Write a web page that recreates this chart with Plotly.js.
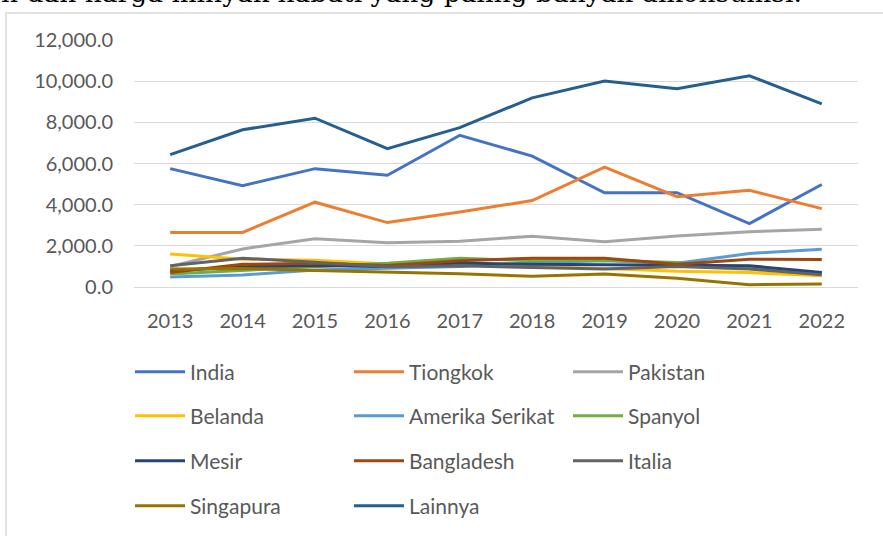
<!DOCTYPE html>
<html>
<head>
<meta charset="utf-8">
<script src="https://cdn.plot.ly/plotly-3.0.1.min.js"></script>
<style>html,body{margin:0;padding:0;background:#fff;}#chart{width:883px;height:536px;}</style>
</head>
<body>
<div id="chart"></div>
<script>
const years = ['2013','2014','2015','2016','2017','2018','2019','2020','2021','2022'];
const india      = [5750, 4920, 5750, 5430, 7370, 6360, 4580, 4580, 3080, 4980];
const tiongkok   = [2650, 2650, 4120, 3130, 3640, 4200, 5820, 4390, 4700, 3810];
const pakistan   = [1000, 1850, 2340, 2150, 2220, 2470, 2200, 2480, 2680, 2810];
const belanda    = [1600, 1350, 1300, 1120, 1150, 1000, 900, 760, 700, 550];
const amerika    = [480, 580, 830, 900, 1000, 1180, 1280, 1150, 1630, 1840];
const spanyol    = [630, 820, 980, 1150, 1400, 1270, 1300, 1190, 900, 650];
const mesir      = [790, 980, 1050, 1000, 1160, 1100, 1080, 1050, 1030, 710];
const bangladesh = [710, 1100, 1150, 1050, 1270, 1400, 1400, 1110, 1350, 1340];
const italia     = [1030, 1400, 1200, 980, 1030, 950, 870, 1000, 870, 600];
const singapura  = [870, 900, 800, 720, 640, 520, 630, 420, 110, 150];
const lainnya    = [6430, 7640, 8200, 6720, 7740, 9190, 10010, 9630, 10260, 8900];

const names = ['India','Tiongkok','Pakistan','Belanda','Amerika Serikat','Spanyol','Mesir','Bangladesh','Italia','Singapura','Lainnya'];
const values = [india,tiongkok,pakistan,belanda,amerika,spanyol,mesir,bangladesh,italia,singapura,lainnya];
const colors = ['#4472C4','#ED7D31','#A5A5A5','#FFC000','#5B9BD5','#70AD47','#264478','#9E480E','#636363','#997300','#255E91'];
const legendIds = ['legend','legend','legend','legend2','legend2','legend2','legend3','legend3','legend3','legend4','legend4'];

const traces = names.map((n,i)=>({
  type:'scatter', mode:'lines', name:n, x:years, y:values[i],
  line:{color:colors[i], width:3}, legend:legendIds[i]
}));
const FONT = 'Lato, "Liberation Sans", sans-serif';
const txt = '#595959';
const L=134, R=858, T=40, B=288;
const px = x => (x-L)/(R-L);
const py = y => (B-y)/(B-T);
function leg(yPix){
  return {orientation:'h', x:px(130), xanchor:'left', y:py(yPix), yanchor:'middle',
    entrywidth:154, entrywidthmode:'pixels', itemwidth:50, font:{family:FONT,size:21,color:txt},
    bgcolor:'rgba(0,0,0,0)', borderwidth:0, traceorder:'normal'};
}
const layout = {
  width:883, height:536,
  margin:{l:L, r:883-R, t:T, b:536-B},
  paper_bgcolor:'#fff', plot_bgcolor:'#fff',
  showlegend:true,
  legend:leg(372), legend2:leg(416), legend3:leg(461), legend4:leg(506),
  xaxis:{type:'category', range:[-0.5,9.5], showgrid:false, zeroline:false, showline:true, linecolor:'#D9D9D9', linewidth:1,
    ticks:'', ticklabelstandoff:16, tickfont:{family:FONT,size:20,color:txt}},
  yaxis:{range:[0,12000], dtick:2000, tickformat:',.1f', showgrid:true, gridcolor:'#D9D9D9', gridwidth:1,
    zeroline:false, showline:false, ticks:'', ticklabelstandoff:20, tickfont:{family:FONT,size:20,color:txt}},
  annotations:[{xref:'paper', yref:'paper', x:px(-1), y:py(10), xanchor:'left', yanchor:'bottom',
    text:'n dan harga minyak nabati yang paling banyak dikonsumsi.', showarrow:false,
    font:{family:'"DejaVu Serif", serif', size:26.5, color:'#000'}}],
  shapes:[{type:'rect', xref:'paper', yref:'paper', x0:px(6), x1:px(900), y0:py(560), y1:py(13),
    line:{color:'#D9D9D9', width:1.5}, fillcolor:'rgba(0,0,0,0)', layer:'below'}]
};
Plotly.newPlot('chart', traces, layout, {staticPlot:true, displayModeBar:false});
</script>
</body>
</html>
